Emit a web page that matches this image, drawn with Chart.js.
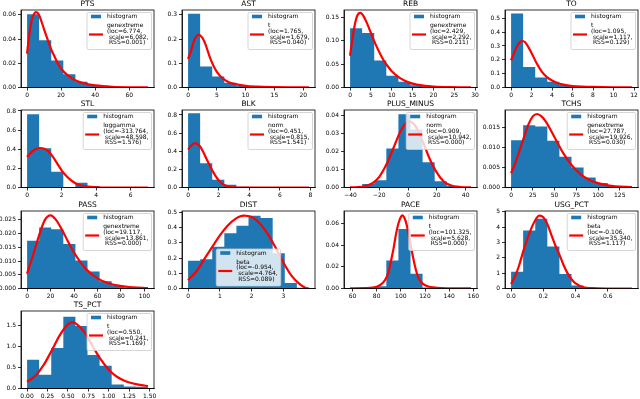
<!DOCTYPE html>
<html>
<head>
<meta charset="utf-8">
<script src="https://cdn.jsdelivr.net/npm/chart.js@4.4.0/dist/chart.umd.min.js"></script>
<style>
  html, body { margin: 0; padding: 0; background: #fff; }
  #fig { position: relative; width: 640px; height: 399px; overflow: hidden; background: #fff; }
  #fig canvas { position: absolute; }
</style>
</head>
<body>
<div id="fig"></div>
<script>
// ---- data (density histograms + fitted pdf) ----
const ptsEdges = [0, 7.1, 14.2, 21.3, 28.4, 35.5, 42.6, 49.7, 56.8, 63.9, 71];
const ptsDensity = [0.0605, 0.039, 0.0222, 0.011, 0.0048, 0.002, 0.001, 0.0005, 0.0002, 0.0001];
const ptsFitX = [0, 1, 2, 3, 4, 5, 6, 7, 8, 10, 12, 14, 16, 18, 20, 24, 28, 32, 36, 40, 50, 60, 71];
const ptsFitY = [0.028, 0.04, 0.05, 0.057, 0.0605, 0.0622, 0.062, 0.06, 0.0565, 0.048, 0.04, 0.032, 0.026, 0.02, 0.0155, 0.01, 0.0062, 0.004, 0.0026, 0.0017, 0.0006, 0.0002, 0.0001];
const ptsXTicks = ['0', '20', '40', '60'];
const ptsYTicks = ['0.00', '0.02', '0.04', '0.06'];
const ptsFitLabel = ['genextreme', '(loc=6.774,', ' scale=6.082,', ' RSS=0.001)'];

const astEdges = [0, 2.1, 4.2, 6.3, 8.4, 10.5, 12.6, 14.7, 16.8, 18.9, 21];
const astDensity = [0.305, 0.087, 0.045, 0.02, 0.006, 0.002, 0.001, 0.0005, 0.0003, 0.0002];
const astFitX = [0, 0.5, 1, 1.5, 1.8, 2.5, 3, 3.5, 4, 4.5, 5, 6, 7, 8, 10, 12, 15, 18, 21];
const astFitY = [0.118, 0.15, 0.19, 0.213, 0.218, 0.205, 0.18, 0.145, 0.112, 0.086, 0.065, 0.038, 0.023, 0.015, 0.0068, 0.0036, 0.0017, 0.0009, 0.0005];
const astXTicks = ['0', '5', '10', '15', '20'];
const astYTicks = ['0.0', '0.1', '0.2', '0.3'];
const astFitLabel = ['t', '(loc=1.765,', ' scale=1.679,', ' RSS=0.040)'];

const rebEdges = [0, 2.9, 5.8, 8.7, 11.6, 14.5, 17.4, 20.3, 23.2, 26.1, 29];
const rebDensity = [0.127, 0.117, 0.058, 0.025, 0.0125, 0.005, 0.002, 0.001, 0.0005, 0.0003];
const rebFitX = [0, 0.5, 1, 1.5, 2, 2.5, 3, 4, 5, 6, 7, 8, 9, 10, 12, 14, 16, 18, 20, 24, 29];
const rebFitY = [0.068, 0.1, 0.128, 0.148, 0.158, 0.16, 0.156, 0.139, 0.117, 0.095, 0.076, 0.059, 0.046, 0.035, 0.02, 0.011, 0.0062, 0.0035, 0.002, 0.0007, 0.0002];
const rebXTicks = ['0', '5', '10', '15', '20', '25', '30'];
const rebYTicks = ['0.00', '0.05', '0.10', '0.15'];
const rebFitLabel = ['genextreme', '(loc=2.429,', ' scale=2.292,', ' RSS=0.211)'];

const toEdges = [0, 1.18, 2.36, 3.54, 4.72, 5.9, 7.08, 8.26, 9.44, 10.62, 11.8];
const toDensity = [0.535, 0.148, 0.073, 0.042, 0.018, 0.006, 0.002, 0.001, 0.0005, 0.0003];
const toFitX = [0, 0.3, 0.6, 0.9, 1.1, 1.4, 1.7, 2, 2.5, 3, 3.5, 4, 4.5, 5, 6, 7, 8, 10, 11.8];
const toFitY = [0.197, 0.25, 0.3, 0.33, 0.336, 0.325, 0.29, 0.25, 0.175, 0.115, 0.075, 0.05, 0.033, 0.023, 0.011, 0.006, 0.0038, 0.0018, 0.001];
const toXTicks = ['0', '2', '4', '6', '8', '10', '12'];
const toYTicks = ['0.0', '0.1', '0.2', '0.3', '0.4', '0.5'];
const toFitLabel = ['t', '(loc=1.095,', ' scale=1.117,', ' RSS=0.129)'];

const stlEdges = [0, 0.7, 1.4, 2.1, 2.8, 3.5, 4.2, 4.9, 5.6, 6.3, 7];
const stlDensity = [0.766, 0.41, 0.165, 0, 0.05, 0.015, 0.003, 0, 0, 0.001];
const stlFitX = [0, 0.25, 0.5, 0.75, 1, 1.25, 1.5, 1.75, 2, 2.25, 2.5, 2.75, 3, 3.5, 4, 5, 7];
const stlFitY = [0.32, 0.37, 0.4, 0.413, 0.405, 0.375, 0.32, 0.25, 0.18, 0.125, 0.082, 0.05, 0.028, 0.009, 0.0025, 0.0002, 0];
const stlXTicks = ['0', '2', '4', '6'];
const stlYTicks = ['0.0', '0.2', '0.4', '0.6', '0.8'];
const stlFitLabel = ['loggamma', '(loc=-313.764,', ' scale=48.598,', ' RSS=1.576)'];

const blkEdges = [0, 0.79, 1.58, 2.37, 3.16, 3.95, 4.74, 5.53, 6.32, 7.11, 7.9];
const blkDensity = [0.82, 0.268, 0.085, 0.03, 0.008, 0.003, 0.001, 0, 0, 0.001];
const blkFitX = [0, 0.25, 0.45, 0.75, 1, 1.25, 1.5, 1.75, 2, 2.25, 2.5, 2.75, 3, 3.5, 4, 7.9];
const blkFitY = [0.42, 0.47, 0.49, 0.46, 0.39, 0.3, 0.215, 0.14, 0.08, 0.04, 0.018, 0.007, 0.0025, 0.0002, 0, 0];
const blkXTicks = ['0', '2', '4', '6', '8'];
const blkYTicks = ['0.0', '0.2', '0.4', '0.6', '0.8'];
const blkFitLabel = ['norm', '(loc=0.451,', ' scale=0.815,', ' RSS=1.541)'];

const pmEdges = [-40.3, -31.9, -23.5, -15.1, -6.7, 1.7, 10.1, 18.5, 26.9, 35.3, 43.7];
const pmDensity = [0.0003, 0.002, 0.004, 0.0215, 0.0405, 0.032, 0.014, 0.0035, 0.001, 0.0002];
const pmFitX = [-40.3, -35, -30, -25, -20, -15, -10, -5, 0, 0.9, 5, 10, 15, 20, 25, 30, 35, 40, 43.7];
const pmFitY = [0.00003, 0.0002, 0.0007, 0.0022, 0.0059, 0.0128, 0.0221, 0.0315, 0.0364, 0.0365, 0.0341, 0.0258, 0.0159, 0.0082, 0.0032, 0.0011, 0.0003, 0.00006, 0.00002];
const pmXTicks = ['\u221240', '\u221220', '0', '20', '40'];
const pmYTicks = ['0.00', '0.01', '0.02', '0.03', '0.04'];
const pmFitLabel = ['norm', '(loc=0.909,', ' scale=10.942,', ' RSS=0.000)'];

const tchsEdges = [0, 13.9, 27.8, 41.7, 55.6, 69.5, 83.4, 97.3, 111.2, 125.1, 139];
const tchsDensity = [0.0118, 0.0156, 0.0153, 0.0117, 0.0077, 0.005, 0.0025, 0.0011, 0.0004, 0.0002];
const tchsFitX = [0, 5, 10, 15, 20, 25, 30, 35, 40, 50, 60, 70, 80, 90, 100, 110, 120, 139];
const tchsFitY = [0.0036, 0.0062, 0.0094, 0.0127, 0.0158, 0.0178, 0.0184, 0.0178, 0.0165, 0.0126, 0.0086, 0.0055, 0.0033, 0.0019, 0.0011, 0.0006, 0.0003, 0.0001];
const tchsXTicks = ['0', '25', '50', '75', '100', '125'];
const tchsYTicks = ['0.000', '0.005', '0.010', '0.015'];
const tchsFitLabel = ['genextreme', '(loc=27.787,', ' scale=19.926,', ' RSS=0.030)'];

const passEdges = [0, 10.3, 20.6, 30.9, 41.2, 51.5, 61.8, 72.1, 82.4, 92.7, 103];
const passDensity = [0.0174, 0.0222, 0.0216, 0.0162, 0.0102, 0.0062, 0.0026, 0.0012, 0.0005, 0.0002];
const passFitX = [0, 5, 10, 15, 20, 25, 30, 35, 40, 50, 60, 70, 80, 90, 103];
const passFitY = [0.0054, 0.012, 0.019, 0.0248, 0.0266, 0.0248, 0.0212, 0.017, 0.0131, 0.0072, 0.0037, 0.0018, 0.0009, 0.00045, 0.00015];
const passXTicks = ['0', '20', '40', '60', '80', '100'];
const passYTicks = ['0.000', '0.005', '0.010', '0.015', '0.020', '0.025'];
const passFitLabel = ['genextreme', '(loc=19.117,', ' scale=13.861,', ' RSS=0.000)'];

const distEdges = [0, 0.38, 0.76, 1.14, 1.52, 1.9, 2.28, 2.66, 3.04, 3.42, 3.8];
const distDensity = [0.183, 0.192, 0.275, 0.364, 0.413, 0.479, 0.464, 0.232, 0.037, 0.005];
const distFitX = [0, 0.25, 0.5, 0.75, 1, 1.25, 1.5, 1.75, 2, 2.25, 2.5, 2.75, 3, 3.25, 3.5, 3.7, 3.8];
const distFitY = [0.055, 0.11, 0.19, 0.27, 0.35, 0.415, 0.46, 0.48, 0.47, 0.43, 0.36, 0.27, 0.17, 0.085, 0.03, 0.003, 0];
const distXTicks = ['0', '1', '2', '3'];
const distYTicks = ['0.0', '0.1', '0.2', '0.3', '0.4', '0.5'];
const distFitLabel = ['beta', '(loc=-0.954,', ' scale=4.764,', ' RSS=0.089)'];

const paceEdges = [58, 68, 78, 88, 98, 108, 118, 128, 138, 148, 158];
const paceDensity = [0.0002, 0.0005, 0.002, 0.0258, 0.0548, 0.0137, 0.001, 0.0003, 0.0001, 0.0001];
const paceFitX = [58, 70, 80, 85, 88, 90, 92, 94, 96, 98, 100, 101.3, 103, 105, 107, 109, 111, 113, 115, 118, 122, 130, 140, 158];
const paceFitY = [0.0001, 0.0003, 0.0015, 0.005, 0.01, 0.016, 0.026, 0.037, 0.05, 0.06, 0.066, 0.0675, 0.065, 0.058, 0.047, 0.035, 0.024, 0.015, 0.009, 0.0045, 0.002, 0.0006, 0.0002, 0.0001];
const paceXTicks = ['60', '80', '100', '120', '140', '160'];
const paceYTicks = ['0.00', '0.02', '0.04', '0.06'];
const paceFitLabel = ['t', '(loc=101.325,', ' scale=5.628,', ' RSS=0.000)'];

const usgEdges = [0, 0.075, 0.15, 0.225, 0.3, 0.375, 0.45, 0.525, 0.6, 0.675, 0.75];
const usgDensity = [1.09, 3.78, 4.54, 2.73, 0.94, 0.2, 0.05, 0.02, 0.005, 0.002];
const usgFitX = [0, 0.025, 0.05, 0.075, 0.1, 0.125, 0.15, 0.175, 0.2, 0.225, 0.25, 0.275, 0.3, 0.325, 0.35, 0.375, 0.4, 0.45, 0.5, 0.6, 0.75];
const usgFitY = [0.3, 0.8, 1.5, 2.4, 3.2, 3.9, 4.45, 4.75, 4.65, 4.2, 3.5, 2.8, 2.2, 1.55, 1.0, 0.6, 0.33, 0.08, 0.02, 0.001, 0];
const usgXTicks = ['0.0', '0.2', '0.4', '0.6'];
const usgYTicks = ['0', '1', '2', '3', '4', '5'];
const usgFitLabel = ['beta', '(loc=-0.106,', ' scale=35.340,', ' RSS=1.117)'];

const tsEdges = [0, 0.148, 0.296, 0.444, 0.592, 0.74, 0.888, 1.036, 1.184, 1.332, 1.48];
const tsDensity = [0.687, 0.33, 0.964, 1.71, 1.49, 0.8, 0.545, 0.095, 0.05, 0.04];
const tsFitX = [0, 0.1, 0.2, 0.3, 0.4, 0.5, 0.55, 0.6, 0.7, 0.8, 0.9, 1.0, 1.1, 1.2, 1.3, 1.4, 1.48];
const tsFitY = [0.16, 0.3, 0.55, 0.9, 1.27, 1.53, 1.58, 1.55, 1.35, 1.02, 0.7, 0.45, 0.28, 0.18, 0.12, 0.08, 0.06];
const tsXTicks = ['0.00', '0.25', '0.50', '0.75', '1.00', '1.25', '1.50'];
const tsYTicks = ['0.0', '0.5', '1.0', '1.5'];
const tsFitLabel = ['t', '(loc=0.550,', ' scale=0.241,', ' RSS=1.169)'];

// ---- panel layout ----
const panels = [
  { title: 'PTS', e: ptsEdges, d: ptsDensity, fx: ptsFitX, fy: ptsFitY, xt: ptsXTicks, yt: ptsYTicks, fit: ptsFitLabel, xMin: -3.55, xMax: 74.55, yMax: 0.064, row: 0, col: 0 },
  { title: 'AST', e: astEdges, d: astDensity, fx: astFitX, fy: astFitY, xt: astXTicks, yt: astYTicks, fit: astFitLabel, xMin: -1.05, xMax: 22.05, yMax: 0.32, row: 0, col: 1 },
  { title: 'REB', e: rebEdges, d: rebDensity, fx: rebFitX, fy: rebFitY, xt: rebXTicks, yt: rebYTicks, fit: rebFitLabel, xMin: -1.45, xMax: 30.45, yMax: 0.166, row: 0, col: 2 },
  { title: 'TO', e: toEdges, d: toDensity, fx: toFitX, fy: toFitY, xt: toXTicks, yt: toYTicks, fit: toFitLabel, xMin: -0.59, xMax: 12.39, yMax: 0.56, row: 0, col: 3 },
  { title: 'STL', e: stlEdges, d: stlDensity, fx: stlFitX, fy: stlFitY, xt: stlXTicks, yt: stlYTicks, fit: stlFitLabel, xMin: -0.35, xMax: 7.35, yMax: 0.81, row: 1, col: 0 },
  { title: 'BLK', e: blkEdges, d: blkDensity, fx: blkFitX, fy: blkFitY, xt: blkXTicks, yt: blkYTicks, fit: blkFitLabel, xMin: -0.395, xMax: 8.295, yMax: 0.855, row: 1, col: 1 },
  { title: 'PLUS_MINUS', e: pmEdges, d: pmDensity, fx: pmFitX, fy: pmFitY, xt: pmXTicks, yt: pmYTicks, fit: pmFitLabel, xMin: -44.5, xMax: 47.9, yMax: 0.0428, row: 1, col: 2 },
  { title: 'TCHS', e: tchsEdges, d: tchsDensity, fx: tchsFitX, fy: tchsFitY, xt: tchsXTicks, yt: tchsYTicks, fit: tchsFitLabel, xMin: -6.95, xMax: 145.95, yMax: 0.0194, row: 1, col: 3 },
  { title: 'PASS', e: passEdges, d: passDensity, fx: passFitX, fy: passFitY, xt: passXTicks, yt: passYTicks, fit: passFitLabel, xMin: -5.15, xMax: 108.15, yMax: 0.0282, row: 2, col: 0 },
  { title: 'DIST', e: distEdges, d: distDensity, fx: distFitX, fy: distFitY, xt: distXTicks, yt: distYTicks, fit: distFitLabel, xMin: -0.19, xMax: 3.99, yMax: 0.51, row: 2, col: 1, legendAt: 'lower center' },
  { title: 'PACE', e: paceEdges, d: paceDensity, fx: paceFitX, fy: paceFitY, xt: paceXTicks, yt: paceYTicks, fit: paceFitLabel, xMin: 53, xMax: 163, yMax: 0.0715, row: 2, col: 2 },
  { title: 'USG_PCT', e: usgEdges, d: usgDensity, fx: usgFitX, fy: usgFitY, xt: usgXTicks, yt: usgYTicks, fit: usgFitLabel, xMin: -0.0375, xMax: 0.7875, yMax: 5.05, row: 2, col: 3 },
  { title: 'TS_PCT', e: tsEdges, d: tsDensity, fx: tsFitX, fy: tsFitY, xt: tsXTicks, yt: tsYTicks, fit: tsFitLabel, xMin: -0.074, xMax: 1.554, yMax: 1.85, row: 3, col: 0 }
];

const colLeft = [21, 182, 344, 505];
const rowTop = [10, 110, 211, 311];
const PLOT_W = 133, PLOT_H = 77.5;
const Y_AXIS_W = 25, X_AXIS_H = 14.5, TITLE_H = 12, RIGHT_PAD = 8;
const FONT = 'DejaVu Sans';

Chart.defaults.font.family = FONT;
Chart.defaults.color = '#000';

const num = s => Number(String(s).replace('\u2212', '-'));

// top/right spines (matplotlib box)
const frame = {
  id: 'frame',
  afterDraw(chart) {
    const a = chart.chartArea, ctx = chart.ctx;
    ctx.save();
    ctx.strokeStyle = '#000';
    ctx.lineWidth = 0.8;
    ctx.strokeRect(a.left, a.top, a.right - a.left, a.bottom - a.top);
    ctx.restore();
  }
};

// matplotlib-style legend box inside the axes
const fitLegend = {
  id: 'fitLegend',
  afterDatasetsDraw(chart, args, opts) {
    const a = chart.chartArea, ctx = chart.ctx;
    const lines = opts.lines;
    ctx.save();
    ctx.font = '6px "' + FONT + '"';
    const textW = Math.max(ctx.measureText('histogram').width, ...lines.map(l => ctx.measureText(l).width));
    const w = 20 + textW + 3;
    const h = 37;
    let x, y;
    if (opts.where === 'lower center') {
      x = (a.left + a.right) / 2 - w / 2;
      y = a.bottom - 2.5 - h;
    } else {
      x = a.right - 2.5 - w;
      y = a.top + 2.5;
    }
    ctx.beginPath();
    ctx.roundRect(x, y, w, h, 1.5);
    ctx.fillStyle = 'rgba(255,255,255,0.8)';
    ctx.fill();
    ctx.strokeStyle = '#cccccc';
    ctx.lineWidth = 0.8;
    ctx.stroke();

    ctx.fillStyle = '#1f77b4';
    ctx.fillRect(x + 4, y + 2.2, 10, 3.6);
    ctx.fillStyle = '#000';
    ctx.textBaseline = 'middle';
    ctx.textAlign = 'left';
    ctx.fillText('histogram', x + 20, y + 4);
    lines.forEach((l, i) => ctx.fillText(l, x + 20, y + 13 + i * 5.8));

    ctx.strokeStyle = 'red';
    ctx.lineWidth = 2.2;
    ctx.beginPath();
    ctx.moveTo(x + 2, y + 22);
    ctx.lineTo(x + 16, y + 22);
    ctx.stroke();
    ctx.restore();
  }
};

const fig = document.getElementById('fig');

panels.forEach(p => {
  const cv = document.createElement('canvas');
  const cw = Y_AXIS_W + PLOT_W + RIGHT_PAD;
  const ch = TITLE_H + PLOT_H + X_AXIS_H;
  cv.width = cw; cv.height = ch;
  cv.style.width = cw + 'px'; cv.style.height = ch + 'px';
  cv.style.left = (colLeft[p.col] - Y_AXIS_W) + 'px';
  cv.style.top = (rowTop[p.row] - TITLE_H) + 'px';
  fig.appendChild(cv);

  // step-before: each edge's value is held until the next edge
  const histData = p.e.map((edge, i) => ({ x: edge, y: p.d[Math.min(i, p.d.length - 1)] }));
  const fitData = p.fx.map((x, i) => ({ x: x, y: p.fy[i] }));
  const xVals = p.xt.map(num), yVals = p.yt.map(num);

  const axisCommon = {
    type: 'linear',
    grid: { drawOnChartArea: false, drawTicks: true, tickLength: 3, color: '#000', lineWidth: 0.8 },
    border: { display: true, color: '#000', width: 0.8 }
  };

  new Chart(cv.getContext('2d'), {
    type: 'line',
    data: {
      datasets: [
        {
          label: 'fit', data: fitData, order: 0,
          borderColor: '#ff0000', borderWidth: 2.2, pointRadius: 0, fill: false,
          cubicInterpolationMode: 'monotone'
        },
        {
          label: 'histogram', data: histData, order: 1,
          stepped: 'before', fill: 'origin', backgroundColor: '#1f77b4',
          borderWidth: 0, borderColor: 'rgba(0,0,0,0)', pointRadius: 0
        }
      ]
    },
    options: {
      responsive: false,
      animation: false,
      devicePixelRatio: 1,
      events: [],
      layout: { padding: { left: 0, right: RIGHT_PAD, top: 0, bottom: 0 } },
      plugins: {
        legend: { display: false },
        tooltip: { enabled: false },
        title: {
          display: true, text: p.title, fullSize: false, color: '#000',
          font: { size: 7.5, weight: 'normal' }, padding: { top: 2, bottom: 1 }
        },
        fitLegend: { lines: p.fit, where: p.legendAt || 'upper right' }
      },
      scales: {
        x: Object.assign({}, axisCommon, {
          min: p.xMin, max: p.xMax,
          afterBuildTicks: s => { s.ticks = xVals.map(v => ({ value: v })); },
          afterFit: s => { s.height = X_AXIS_H; },
          ticks: { font: { size: 6 }, color: '#000', padding: 1, maxRotation: 0, autoSkip: false,
                   callback: (v, i) => p.xt[i] }
        }),
        y: Object.assign({}, axisCommon, {
          min: 0, max: p.yMax,
          afterBuildTicks: s => { s.ticks = yVals.map(v => ({ value: v })); },
          afterFit: s => { s.width = Y_AXIS_W; },
          ticks: { font: { size: 6 }, color: '#000', padding: 2, autoSkip: false,
                   callback: (v, i) => p.yt[i] }
        })
      }
    },
    plugins: [frame, fitLegend]
  });
});
</script>
</body>
</html>
